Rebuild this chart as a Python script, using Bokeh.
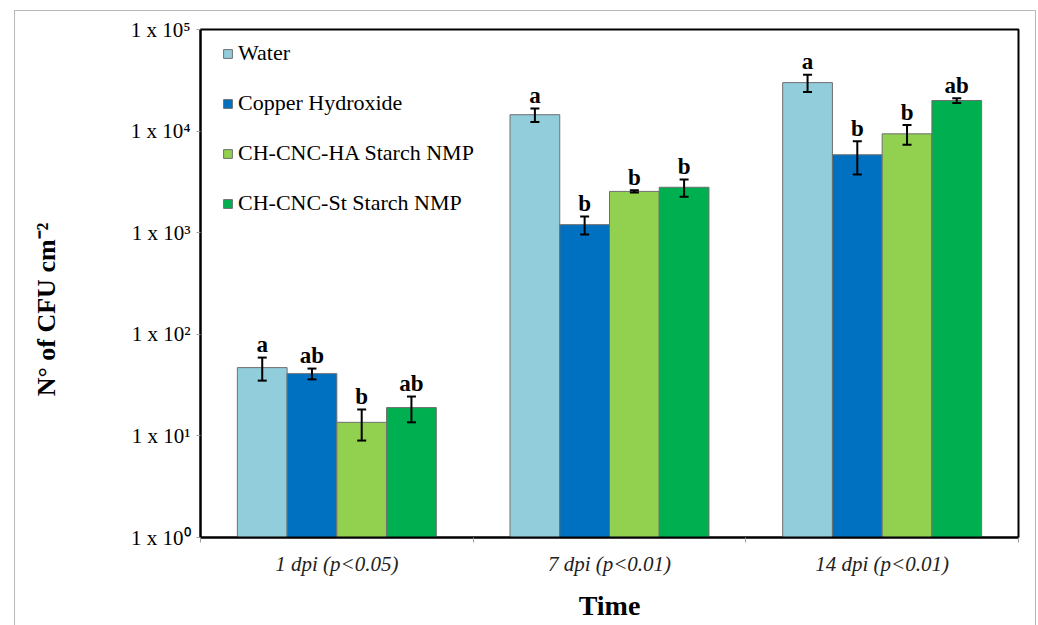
import math
from bokeh.plotting import figure
from bokeh.models import (ColumnDataSource, FixedTicker, Whisker, TeeHead,
                          Legend, LegendItem)
from bokeh.core.properties import value
from bokeh.embed import file_html
from bokeh.resources import INLINE

# ---------------- data ----------------
categories = ["1 dpi (p<0.05)", "7 dpi (p<0.01)", "14 dpi (p<0.01)"]
series_names = ["Water", "Copper Hydroxide", "CH-CNC-HA Starch NMP", "CH-CNC-St Starch NMP"]
water = [47, 14500, 30000]
water_err = [12, 2200, 5800]
copper = [41, 1200, 5850]
copper_err = [5, 240, 2100]
ha = [13.6, 2550, 9400]
ha_err = [4.6, 60, 2080]
st = [19, 2800, 20000]
st_err = [5.4, 540, 1050]
water_letters = ["a", "a", "a"]
copper_letters = ["ab", "b", "b"]
ha_letters = ["b", "b", "b"]
st_letters = ["ab", "b", "ab"]
y_ticks = [1, 10, 100, 1000, 10000, 100000]
y_tick_labels = ["1 x 10\u2070", "1 x 10\u00b9", "1 x 10\u00b2", "1 x 10\u00b3", "1 x 10\u2074", "1 x 10\u2075"]
y_title = "N\u00b0 of CFU cm\u207b\u00b2"
x_title = "Time"

colors = ["#92CDDC", "#0070C0", "#92D050", "#00B050"]
values_all = [water, copper, ha, st]
errs_all = [water_err, copper_err, ha_err, st_err]
letters_all = [water_letters, copper_letters, ha_letters, st_letters]

SERIF = "Liberation Serif"
bar_w = 0.1824
offsets = [-1.5 * bar_w, -0.5 * bar_w, 0.5 * bar_w, 1.5 * bar_w]

p = figure(width=1038, height=625, y_axis_type="log", x_range=(0, 3), y_range=(1, 1e5),
           output_backend="svg", toolbar_location=None,
           min_border_left=200, min_border_right=20, min_border_top=29, min_border_bottom=88)
p.border_fill_alpha = 0
p.background_fill_color = "white"
p.styles = {
    "background": "linear-gradient(#b8b8b8,#b8b8b8) 14px 10px / 1px 615px no-repeat, "
                  "linear-gradient(#b8b8b8,#b8b8b8) 1035px 10px / 1px 615px no-repeat, "
                  "linear-gradient(#b8b8b8,#b8b8b8) 14px 10px / 1022px 1px no-repeat, white"
}
p.outline_line_color = "black"
p.outline_line_width = 2
p.xgrid.visible = False
p.ygrid.visible = False

legend_items = []
for k in range(4):
    xs = [i + 0.5 + offsets[k] for i in range(len(categories))]
    vals = values_all[k]
    errs = errs_all[k]
    src = ColumnDataSource(dict(
        x=xs, top=vals,
        upper=[v + e for v, e in zip(vals, errs)],
        lower=[v - e for v, e in zip(vals, errs)],
        letter=letters_all[k],
    ))
    r = p.vbar(x="x", top="top", bottom=1, width=bar_w, source=src,
               fill_color=colors[k], line_color="#6f6f6f", line_width=1)
    legend_items.append(LegendItem(label=series_names[k], renderers=[r]))
    w = Whisker(base="x", upper="upper", lower="lower", source=src, dimension="height",
                line_color="black", line_width=2, level="annotation",
                upper_head=TeeHead(size=9, line_color="black", line_width=2),
                lower_head=TeeHead(size=9, line_color="black", line_width=2))
    p.add_layout(w)
    p.text(x="x", y="upper", text="letter", source=src, text_align="center",
           text_baseline="alphabetic", y_offset=-13, text_font=value(SERIF),
           text_font_size="23px", text_font_style="bold", text_color="black")

legend = Legend(items=legend_items, location=(22, 321), orientation="vertical",
                padding=0, margin=0, spacing=24, glyph_width=11, glyph_height=11,
                label_height=22, label_standoff=5, border_line_alpha=0,
                background_fill_alpha=0)
legend.label_text_font = SERIF
legend.label_text_font_size = "22px"
legend.label_text_color = "black"
p.add_layout(legend)

# y axis
p.yaxis.ticker = FixedTicker(ticks=y_ticks, minor_ticks=[])
p.yaxis.major_label_overrides = {t: l for t, l in zip(y_ticks, y_tick_labels)}
p.yaxis.axis_line_color = "black"
p.yaxis.axis_line_width = 2
p.yaxis.major_tick_out = 4
p.yaxis.major_tick_in = 0
p.yaxis.major_tick_line_color = "#a0a0a0"
p.yaxis.minor_tick_line_color = None
p.yaxis.major_label_standoff = 6
p.yaxis.major_label_text_font = SERIF
p.yaxis.major_label_text_font_size = "21px"
p.yaxis.major_label_text_color = "black"
# trailing no-break spaces shift the centred title towards the bottom, as in the source
p.yaxis.axis_label = y_title + "\u00a0" * 8
p.yaxis.axis_label_text_font = SERIF
p.yaxis.axis_label_text_font_style = "bold"
p.yaxis.axis_label_text_font_size = "26px"
p.yaxis.axis_label_text_color = "black"
p.yaxis.axis_label_standoff = 67

# x axis
cat_pos = [i + 0.5 for i in range(len(categories))]
p.xaxis.ticker = FixedTicker(ticks=cat_pos, minor_ticks=[float(i) for i in range(len(categories) + 1)])
p.xaxis.major_label_overrides = {c: l for c, l in zip(cat_pos, categories)}
p.xaxis.axis_line_color = "black"
p.xaxis.axis_line_width = 2
p.xaxis.major_tick_out = 0
p.xaxis.major_tick_in = 0
p.xaxis.minor_tick_out = 5
p.xaxis.minor_tick_in = 0
p.xaxis.minor_tick_line_color = "#a0a0a0"
p.xaxis.major_label_standoff = 9
p.xaxis.major_label_text_font = SERIF
p.xaxis.major_label_text_font_style = "italic"
p.xaxis.major_label_text_font_size = "21px"
p.xaxis.major_label_text_color = "#222222"
p.xaxis.axis_label = x_title
p.xaxis.axis_label_text_font = SERIF
p.xaxis.axis_label_text_font_style = "bold"
p.xaxis.axis_label_text_font_size = "28px"
p.xaxis.axis_label_text_color = "black"
p.xaxis.axis_label_standoff = 11

open("out.html", "w").write(file_html(p, INLINE))
